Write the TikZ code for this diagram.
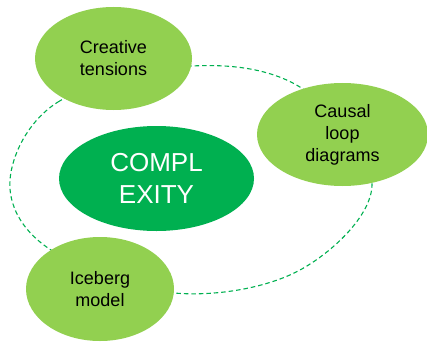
\documentclass[tikz,border=0pt]{standalone}
\usepackage{fontspec}
\setmainfont{Liberation Sans}
\usetikzlibrary{shapes.geometric}
\definecolor{lightg}{HTML}{92D050}
\definecolor{darkg}{HTML}{00B050}
\begin{document}
\begin{tikzpicture}[x=1pt,y=-1pt,
  bubble/.style={ellipse, fill=lightg, inner sep=0pt, align=center, font=\fontsize{18}{22}\selectfont, text=black},
  core/.style={ellipse, fill=darkg, inner sep=0pt, align=center, font=\fontsize{26}{32}\selectfont, text=white},
  loopline/.style={draw=darkg, line width=1.1pt, dash pattern=on 4.5pt off 3pt}]
\useasboundingbox (0,0) rectangle (427,342);
\coordinate (p1) at (10,180);
\coordinate (p3) at (58,102);
\coordinate (p5) at (192,66);
\coordinate (p7) at (303,89);
\coordinate (p9) at (372,185);
\coordinate (p11) at (300,270);
\coordinate (p13) at (174,293);
\coordinate (p15) at (48,248);
\draw[loopline] plot[smooth cycle, tension=0.6] coordinates {(p1) (p3) (p5) (p7) (p9) (p11) (p13) (p15)};
\node[bubble, minimum width=157pt, minimum height=103pt] (ct) at (113.5,58.5) {Creative\\tensions};
\node[bubble, minimum width=171pt, minimum height=103pt] (cl) at (342.5,134.5) {Causal\\loop\\diagrams};
\node[core, minimum width=195pt, minimum height=105pt] (cx) at (156.5,178.5) {COMPL\\EXITY};
\node[bubble, minimum width=148pt, minimum height=104pt] (ib) at (100,289) {Iceberg\\model};
\end{tikzpicture}
\end{document}
